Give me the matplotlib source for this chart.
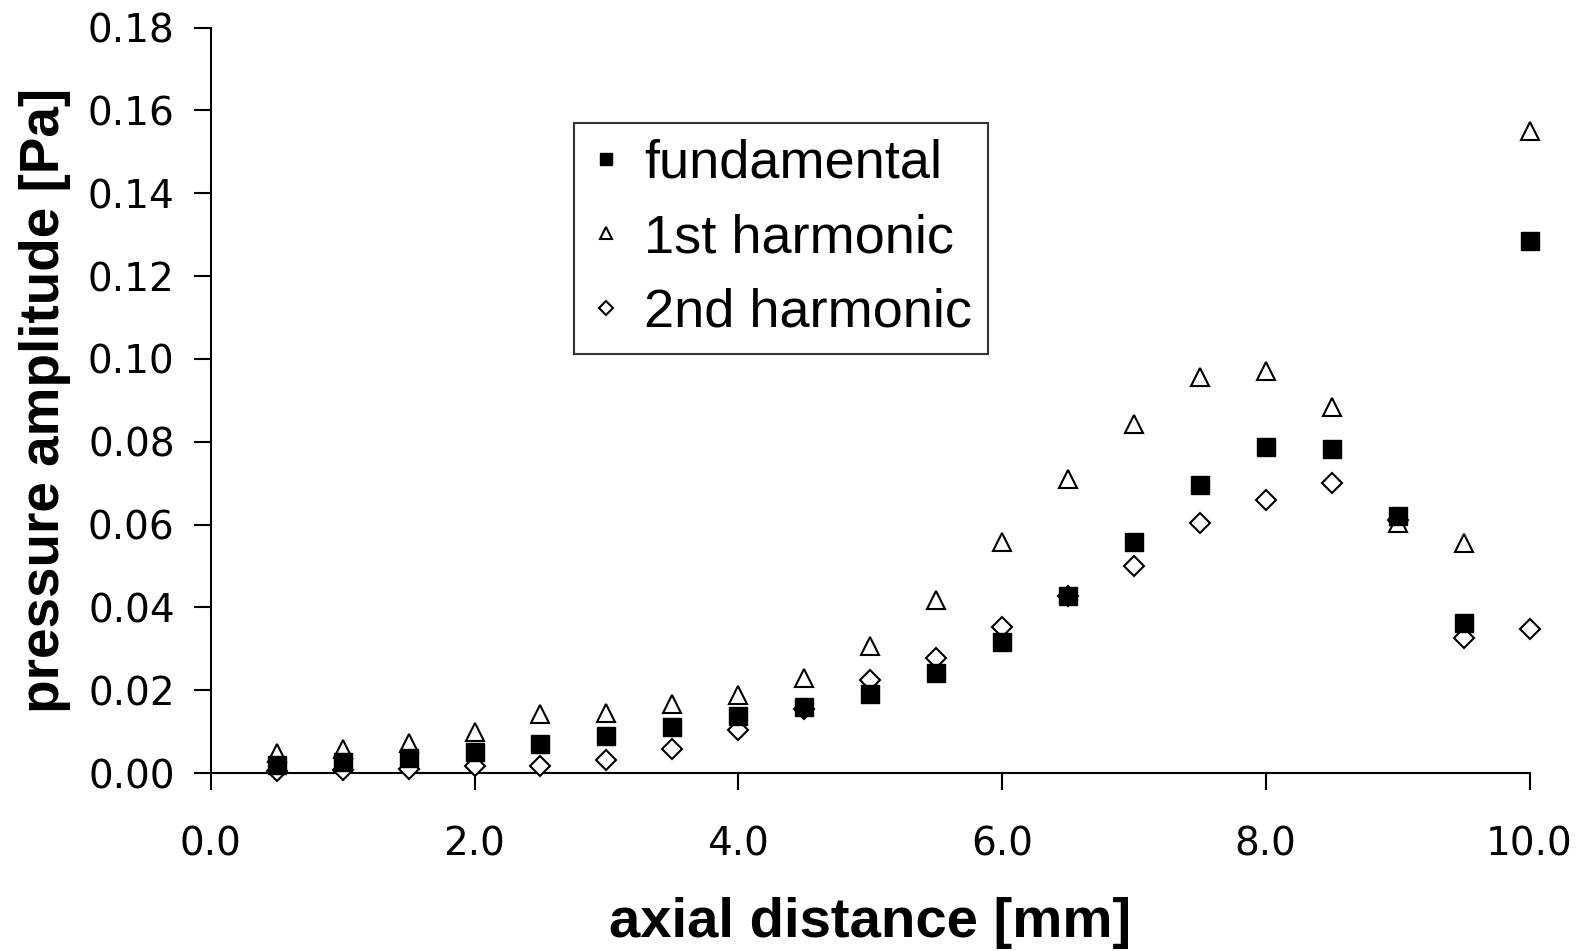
import numpy as np
import matplotlib.pyplot as plt

plt.rcParams['font.family'] = ['Liberation Sans', 'DejaVu Sans']

# axial distance [mm]
x = [0.5, 1.0, 1.5, 2.0, 2.5, 3.0, 3.5, 4.0, 4.5, 5.0,
     5.5, 6.0, 6.5, 7.0, 7.5, 8.0, 8.5, 9.0, 9.5, 10.0]

# pressure amplitude [Pa]
fundamental = [0.0020, 0.0027, 0.0037, 0.0050, 0.0070, 0.0090, 0.0112, 0.0137, 0.0160, 0.0192,
               0.0243, 0.0317, 0.0427, 0.0559, 0.0695, 0.0788, 0.0783, 0.0620, 0.0363, 0.1285]
harm1 = [0.0049, 0.0059, 0.0073, 0.0100, 0.0144, 0.0146, 0.0168, 0.0188, 0.0230, 0.0307,
         0.0417, 0.0559, 0.0710, 0.0844, 0.0956, 0.0970, 0.0883, 0.0605, 0.0556, 0.1550]
harm2 = [0.0005, 0.0007, 0.0010, 0.0017, 0.0017, 0.0032, 0.0059, 0.0105, 0.0155, 0.0224,
         0.0278, 0.0354, 0.0427, 0.0500, 0.0605, 0.0659, 0.0700, 0.0612, 0.0327, 0.0349]

xticks = [0, 2, 4, 6, 8, 10]
yticks = [0.00, 0.02, 0.04, 0.06, 0.08, 0.10, 0.12, 0.14, 0.16, 0.18]

fig = plt.figure(figsize=(15.85, 9.51), dpi=100)
ax = fig.add_axes([0.133, 0.187, 0.832, 0.784])

ax.plot(x, harm2, ls='none', marker='D', ms=10, mfc='white', mec='black', mew=1.5,
        label='2nd harmonic', zorder=3, clip_on=False)
ax.plot(x, harm1, ls='none', marker='^', ms=13, mfc='white', mec='black', mew=1.5,
        label='1st harmonic', zorder=3, clip_on=False)
ax.plot(x, fundamental, ls='none', marker='s', ms=13, mfc='black', mec='black',
        label='fundamental', zorder=4, clip_on=False)

ax.set_xlim(0, 10)
ax.set_ylim(0, 0.18)
ax.set_xticks(xticks)
ax.set_xticklabels([f"{v:.1f}" for v in xticks], family='DejaVu Sans')
ax.set_yticks(yticks)
ax.set_yticklabels([f"{v:.2f}" for v in yticks], family='DejaVu Sans')
ax.tick_params(direction='out', length=12, width=1.5, labelsize=28, pad=14)
ax.tick_params(axis='x', pad=26)
for s in ('top', 'right'):
    ax.spines[s].set_visible(False)
for s in ('left', 'bottom'):
    ax.spines[s].set_linewidth(1.5)

ax.set_xlabel("axial distance [mm]", fontsize=40.5, fontweight='bold', labelpad=24)
ax.set_ylabel("pressure amplitude [Pa]", fontsize=39.5, fontweight='bold', labelpad=12)

h, l = ax.get_legend_handles_labels()
leg = ax.legend(h[::-1], l[::-1], loc='upper left', bbox_to_anchor=(0.2545, 0.909),
                fontsize=39, markerscale=0.7, frameon=True, fancybox=False,
                handlelength=0.6, handletextpad=0.4, borderpad=0.3, labelspacing=0.45)
leg.get_frame().set_edgecolor('black')
leg.get_frame().set_linewidth(1.5)

fig.savefig("out.png", dpi=100)
